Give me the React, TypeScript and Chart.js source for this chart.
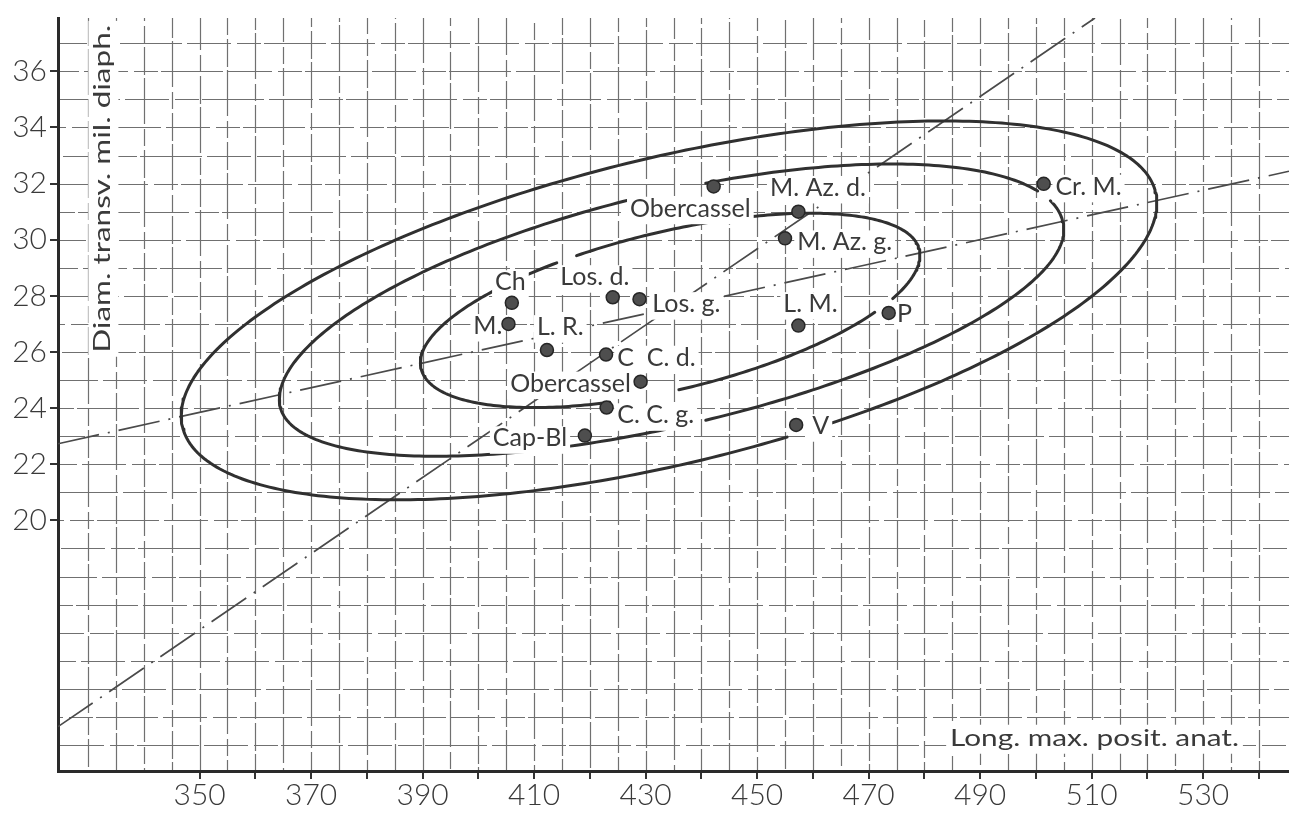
import React, { useEffect, useRef } from 'react';
import { Chart, registerables } from 'chart.js';

Chart.register(...registerables);

// ---- Axis ranges and ticks ----
const X_MIN = 324.6;
const X_MAX = 545.4;
const Y_MIN = 11.07;
const Y_MAX = 37.9;

const X_TICKS = [350, 360, 370, 380, 390, 400, 410, 420, 430, 440, 450, 460, 470, 480, 490, 500, 510, 520, 530, 540];
const X_TICK_LABELS = ['350', '', '370', '', '390', '', '410', '', '430', '', '450', '', '470', '', '490', '', '510', '', '530', ''];
const Y_TICKS = [20, 22, 24, 26, 28, 30, 32, 34, 36];
const Y_TICK_LABELS = ['20', '22', '24', '26', '28', '30', '32', '34', '36'];

const X_TITLE = 'Long. max. posit. anat.';
const Y_TITLE = 'Diam. transv. mil. diaph.';

// ---- Graph-paper ruling ----
const GRID_X_FROM = 330;
const GRID_X_TO = 540;
const GRID_X_STEP = 5;
const GRID_Y_FROM = 12;
const GRID_Y_TO = 37;
const GRID_Y_STEP = 1;

// ---- Specimens (length, transverse diameter) ----
const SPECIMEN_X = [442.2, 457.4, 455.0, 406.0, 405.4, 424.1, 428.9, 457.4, 473.6, 412.3, 422.9, 429.1, 423.0, 419.1, 457.0, 501.4];
const SPECIMEN_Y = [31.9, 31.0, 30.05, 27.75, 27.0, 27.95, 27.88, 26.94, 27.39, 26.07, 25.91, 24.94, 24.02, 23.02, 23.4, 31.99];

// ---- Specimen names (left edge, vertical centre) ----
const LABEL_TEXT = ['M. Az. d.', 'Obercassel', 'M. Az. g.', 'Ch', 'Los. d.', 'Los. g.', 'L. M.', 'P', 'M.', 'L. R.', 'C  C. d.', 'Obercassel', 'C. C. g.', 'Cap-Bl', 'V', 'Cr. M.'];
const LABEL_X = [452.3, 427.2, 457.2, 403.0, 414.7, 431.2, 454.7, 475.1, 399.1, 410.5, 424.9, 405.7, 424.9, 402.6, 459.9, 503.5];
const LABEL_Y = [31.88, 31.14, 29.94, 28.52, 28.7, 27.74, 27.74, 27.39, 26.96, 26.92, 25.83, 24.91, 23.78, 22.96, 23.39, 31.92];

// ---- Contours: x = cx + rx·cos t ; y = cy + a·cos t + b·sin t (b differs above / below) ----
const CONTOUR_CX = [434.4, 434.65, 434.2];
const CONTOUR_RX = [44.8, 70.35, 87.5];
const CONTOUR_CY = [27.535, 27.32, 27.515];
const CONTOUR_A = [1.915, 3.02, 3.785];
const CONTOUR_B_UP = [2.82, 4.45, 5.55];
const CONTOUR_B_LOW = [2.95, 4.03, 5.63];
// interruptions of each contour, in degrees of t
const CONTOUR_BREAKS: number[][][] = [
  [[112, 117], [125, 135], [-104, -88], [-35, -27]],
  [[85, 96], [15, 21], [-112, -105], [-91, -85]],
  [[-76, -71]],
];

// ---- Principal axes (dash-dot) ----
const AXIS_A_X = [324.6, 545.4];
const AXIS_A_Y = [22.73, 32.44];
const AXIS_B_X = [324.6, 510.6];
const AXIS_B_Y = [12.65, 37.9];

// ---- Title placement (data coordinates) and drawn lengths ----
const Y_TITLE_AT = { x: 334.0, y: 25.97 };
const Y_TITLE_LENGTH = 328;
const X_TITLE_AT = { x: 484.6, y: 11.97 };
const X_TITLE_LENGTH = 289;

const FONT = 'Lato, "Open Sans", "DejaVu Sans", sans-serif';
const INK = '#303030';
const TEXT = '#3a3a3a';
const GRID = '#707070';

function contourData(i: number) {
  const pts: { x: number; y: number }[] = [];
  for (let d = -180; d <= 180; d += 1) {
    const cut = CONTOUR_BREAKS[i].some(([a, b]) => d > a && d < b);
    if (cut) {
      pts.push({ x: NaN, y: NaN });
      continue;
    }
    const t = (d * Math.PI) / 180;
    const s = Math.sin(t);
    const b = s >= 0 ? CONTOUR_B_UP[i] : CONTOUR_B_LOW[i];
    pts.push({
      x: CONTOUR_CX[i] + CONTOUR_RX[i] * Math.cos(t),
      y: CONTOUR_CY[i] + CONTOUR_A[i] * Math.cos(t) + b * s,
    });
  }
  return pts;
}

const paperPlugin = {
  id: 'paper',
  beforeDraw(chart: any) {
    const { ctx, chartArea, scales } = chart;
    const { left, right, top, bottom } = chartArea;
    const xs = scales.x;
    const ys = scales.y;
    ctx.save();
    ctx.strokeStyle = GRID;
    ctx.lineWidth = 1.2;
    // vertical rulings
    ctx.setLineDash([28, 3, 46, 5, 17, 4]);
    let k = 0;
    for (let v = GRID_X_FROM; v <= GRID_X_TO; v += GRID_X_STEP, k++) {
      const px = Math.round(xs.getPixelForValue(v)) + 0.5;
      ctx.lineDashOffset = (k * 37) % 103;
      ctx.beginPath();
      ctx.moveTo(px, top);
      ctx.lineTo(px, bottom);
      ctx.stroke();
    }
    // horizontal rulings
    ctx.setLineDash([44, 6, 24, 3, 62, 5]);
    k = 0;
    for (let v = GRID_Y_FROM; v <= GRID_Y_TO; v += GRID_Y_STEP, k++) {
      const py = Math.round(ys.getPixelForValue(v)) + 0.5;
      ctx.lineDashOffset = (k * 41) % 144;
      ctx.beginPath();
      ctx.moveTo(left + 2, py);
      ctx.lineTo(right, py);
      ctx.stroke();
    }
    ctx.setLineDash([]);

    // y title, rotated, on a white ground
    ctx.font = `24px ${FONT}`;
    ctx.textBaseline = 'alphabetic';
    ctx.textAlign = 'left';
    const yw = ctx.measureText(Y_TITLE).width;
    ctx.save();
    ctx.translate(xs.getPixelForValue(Y_TITLE_AT.x), ys.getPixelForValue(Y_TITLE_AT.y));
    ctx.rotate(-Math.PI / 2);
    ctx.scale(Y_TITLE_LENGTH / yw, 1);
    ctx.fillStyle = '#fff';
    ctx.fillRect(-3, -22, yw + 6, 30);
    ctx.fillStyle = TEXT;
    ctx.fillText(Y_TITLE, 0, 0);
    ctx.restore();

    // x title
    ctx.font = `23px ${FONT}`;
    const xw = ctx.measureText(X_TITLE).width;
    ctx.save();
    ctx.translate(xs.getPixelForValue(X_TITLE_AT.x), ys.getPixelForValue(X_TITLE_AT.y));
    ctx.scale(X_TITLE_LENGTH / xw, 1);
    ctx.fillStyle = '#fff';
    ctx.fillRect(-3, -21, xw + 6, 29);
    ctx.fillStyle = TEXT;
    ctx.fillText(X_TITLE, 0, 0);
    ctx.restore();
    ctx.restore();
  },
};

const labelPlugin = {
  id: 'specimenLabels',
  beforeDatasetDraw(chart: any, args: any) {
    if (chart.data.datasets[args.index].label !== 'Specimens') return;
    const { ctx, scales } = chart;
    const size = 25;
    ctx.save();
    ctx.font = `${size}px ${FONT}`;
    ctx.textBaseline = 'alphabetic';
    ctx.textAlign = 'left';
    const items = LABEL_TEXT.map((t, i) => {
      const px = scales.x.getPixelForValue(LABEL_X[i]);
      const base = scales.y.getPixelForValue(LABEL_Y[i]) + 0.36 * size;
      return { t, px, base, w: ctx.measureText(t).width };
    });
    ctx.fillStyle = '#fff';
    items.forEach(({ px, base, w }) => ctx.fillRect(px - 3, base - 0.8 * size, w + 6, 1.02 * size + 2));
    ctx.fillStyle = TEXT;
    items.forEach(({ t, px, base }) => ctx.fillText(t, px, base));
    ctx.restore();
  },
};

export default function App() {
  const ref = useRef<HTMLCanvasElement>(null);

  useEffect(() => {
    const canvas = ref.current;
    if (!canvas) return;

    const contourSets = [0, 1, 2].map((i) => ({
      label: `Contour ${i + 1}`,
      data: contourData(i),
      showLine: true,
      borderColor: INK,
      borderWidth: 3,
      pointRadius: 0,
      tension: 0,
      spanGaps: false,
      borderCapStyle: 'round' as const,
      borderJoinStyle: 'round' as const,
      order: 2,
    }));

    const axisSet = (xs: number[], ys: number[], name: string) => ({
      label: name,
      data: xs.map((x, i) => ({ x, y: ys[i] })),
      showLine: true,
      borderColor: '#4a4a4a',
      borderWidth: 1.7,
      borderDash: [42, 9, 2, 9],
      pointRadius: 0,
      tension: 0,
      order: 3,
    });

    const tickFont = { family: FONT, size: 30, weight: '300', lineHeight: 1 };

    const chart = new Chart(canvas, {
      type: 'scatter',
      data: {
        datasets: [
          {
            label: 'Specimens',
            data: SPECIMEN_X.map((x, i) => ({ x, y: SPECIMEN_Y[i] })),
            pointRadius: 6.5,
            pointBackgroundColor: '#4e4e4e',
            pointBorderColor: '#262626',
            pointBorderWidth: 1.5,
            showLine: false,
            order: 0,
          } as any,
          ...contourSets,
          axisSet(AXIS_A_X, AXIS_A_Y, 'Axis A'),
          axisSet(AXIS_B_X, AXIS_B_Y, 'Axis B'),
        ],
      },
      options: {
        responsive: false,
        animation: false,
        devicePixelRatio: 1,
        layout: { autoPadding: false, padding: { top: 13, right: 0, left: 0, bottom: 0 } },
        plugins: {
          legend: { display: false },
          tooltip: { enabled: false },
        },
        events: [],
        scales: {
          x: {
            type: 'linear',
            min: X_MIN,
            max: X_MAX,
            afterBuildTicks: (s: any) => {
              s.ticks = X_TICKS.map((value) => ({ value }));
            },
            afterFit: (s: any) => {
              s.height = 42;
            },
            ticks: {
              callback: (_v: any, i: number) => X_TICK_LABELS[i],
              autoSkip: false,
              maxRotation: 0,
              minRotation: 0,
              padding: 1,
              color: TEXT,
              font: tickFont,
            },
            grid: { display: true, drawOnChartArea: false, drawTicks: true, tickLength: 8, color: '#333', lineWidth: 2 },
            border: { display: true, color: '#2a2a2a', width: 3 },
          },
          y: {
            type: 'linear',
            min: Y_MIN,
            max: Y_MAX,
            afterBuildTicks: (s: any) => {
              s.ticks = Y_TICKS.map((value) => ({ value }));
            },
            afterFit: (s: any) => {
              s.width = 58;
            },
            ticks: {
              callback: (_v: any, i: number) => Y_TICK_LABELS[i],
              autoSkip: false,
              padding: 3,
              color: TEXT,
              font: tickFont,
            },
            grid: { display: true, drawOnChartArea: false, drawTicks: true, tickLength: 8, color: '#333', lineWidth: 2 },
            border: { display: true, color: '#2a2a2a', width: 3 },
          },
        },
      },
      plugins: [paperPlugin, labelPlugin],
    } as any);

    return () => chart.destroy();
  }, []);

  return (
    <div style={{ position: 'fixed', left: 0, top: 0, width: 1289, height: 813, background: '#fff' }}>
      <canvas ref={ref} width={1289} height={813} style={{ display: 'block' }} />
    </div>
  );
}
